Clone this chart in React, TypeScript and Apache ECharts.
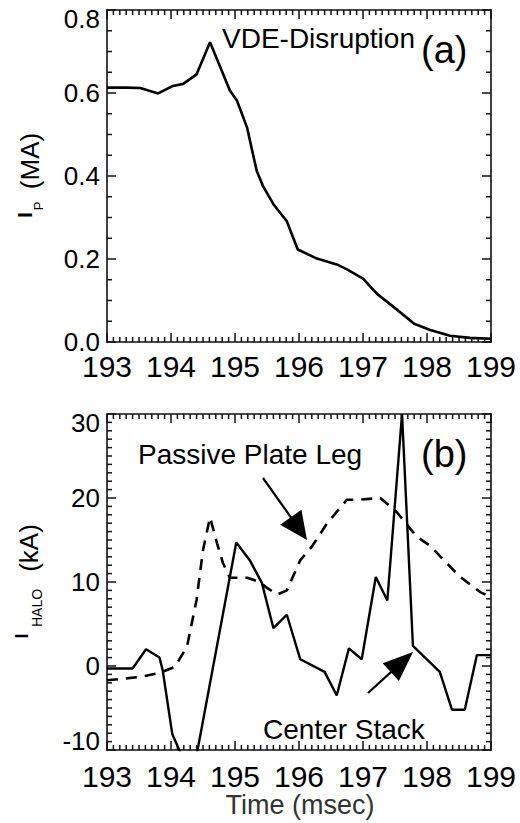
import React, { useEffect, useRef } from 'react';
import * as echarts from 'echarts';

// Panel (a): plasma current I_P (MA) vs time (msec)
const ipTime = [193.0, 193.3, 193.52, 193.8, 194.03, 194.19, 194.4, 194.61, 194.92, 195.03, 195.19, 195.27, 195.34, 195.44, 195.6, 195.81, 195.98, 196.28, 196.59, 196.75, 197.0, 197.22, 197.53, 197.8, 198.05, 198.36, 198.67, 199.0];
const ipValues = [0.613, 0.613, 0.612, 0.599, 0.617, 0.622, 0.645, 0.722, 0.606, 0.582, 0.516, 0.46, 0.412, 0.375, 0.332, 0.291, 0.223, 0.201, 0.187, 0.175, 0.153, 0.116, 0.078, 0.044, 0.029, 0.015, 0.01, 0.008];

// Panel (b): halo current, Center Stack (solid)
const csTime = [193.0, 193.4, 193.61, 193.82, 193.87, 194.02, 194.14, 194.3, 194.41, 195.02, 195.23, 195.42, 195.6, 195.81, 196.02, 196.4, 196.59, 196.78, 196.98, 197.2, 197.38, 197.61, 197.78, 198.2, 198.39, 198.59, 198.78, 199.0];
const csValues = [-0.3, -0.3, 2.0, 1.0, -0.5, -8.1, -10.2, -13.0, -10.2, 14.7, 12.6, 9.9, 4.5, 6.1, 0.8, -0.7, -3.5, 2.1, 0.8, 10.6, 7.8, 30.0, 2.4, -0.7, -5.2, -5.2, 1.3, 1.3];

// Panel (b): halo current, Passive Plate Leg (dashed)
const pplTime = [193.0, 193.52, 193.83, 194.06, 194.25, 194.4, 194.5, 194.61, 194.72, 194.81, 194.92, 195.19, 195.39, 195.5, 195.66, 195.81, 196.02, 196.2, 196.44, 196.75, 196.95, 197.27, 197.53, 197.69, 197.84, 198.05, 198.25, 198.52, 198.83, 199.0];
const pplValues = [-1.7, -1.3, -0.8, -0.1, 2.3, 7.9, 13.8, 17.7, 14.6, 12.3, 10.5, 10.5, 10.0, 9.3, 8.5, 9.0, 12.6, 14.2, 17.0, 19.8, 19.8, 20.0, 18.3, 16.8, 15.4, 14.3, 12.7, 10.6, 8.8, 8.2];

const xMin = 193;
const xMax = 199;
const xMinorPerMajor = 10;
const ipMin = 0;
const ipMax = 0.8;
const ipStep = 0.2;
const ipMinorPerMajor = 4;
const haloMin = -10;
const haloMax = 30;
const haloStep = 10;
const haloMinorPerMajor = 10;

const FONT = '"Liberation Sans", Arial, Helvetica, sans-serif';
const INK = '#111';

const GRID_LEFT = 107;
const GRID_W = 384;

function arrow(x1: number, y1: number, x2: number, y2: number, len: number, hw: number) {
  const dx = x2 - x1;
  const dy = y2 - y1;
  const L = Math.sqrt(dx * dx + dy * dy);
  const ux = dx / L;
  const uy = dy / L;
  const bx = x2 - ux * len;
  const by = y2 - uy * len;
  const px = -uy * hw;
  const py = ux * hw;
  return [
    { type: 'line', shape: { x1, y1, x2: bx + ux * 2, y2: by + uy * 2 }, style: { stroke: '#000', lineWidth: 2.2 } },
    { type: 'polygon', shape: { points: [[x2, y2], [bx + px, by + py], [bx - px, by - py]] }, style: { fill: '#000' } },
  ];
}

function vText(text: string, x: number, y: number, fontSize: number, bold = false) {
  return {
    type: 'text', x, y, rotation: Math.PI / 2,
    style: { text, fontSize, fontWeight: bold ? 'bold' : 'normal', fontFamily: FONT, fill: '#000', align: 'center', verticalAlign: 'middle' },
  };
}

export default function App() {
  const ref = useRef<HTMLDivElement>(null);
  useEffect(() => {
    const chart = echarts.init(ref.current as HTMLDivElement, null, { renderer: 'svg' });
    const lineStyle = { color: INK, width: 1.6 };
    const noTick = { show: false };
    const base = { type: 'value', splitLine: { show: false }, minorSplitLine: { show: false }, axisTick: noTick, minorTick: noTick };

    const xAxesFor = (g: number, margin: number) => [
      { ...base, gridIndex: g, position: 'bottom', min: xMin, max: xMax, interval: 1,
        axisLine: { show: true, onZero: false, lineStyle },
        axisLabel: { show: true, color: '#000', fontSize: 30, fontFamily: FONT, margin, lineHeight: 22 } },
      { ...base, gridIndex: g, position: 'top', min: xMin, max: xMax, interval: 1,
        axisLine: { show: true, onZero: false, lineStyle }, axisLabel: { show: false } },
    ];
    const yAxesFor = (g: number, min: number, max: number, interval: number, fmt: (v: number) => string, minAlign: string) => [
      { ...base, gridIndex: g, position: 'left', min, max, interval,
        axisLine: { show: true, onZero: false, lineStyle },
        axisLabel: {
          show: true, color: '#000', fontSize: 26, fontFamily: FONT, margin: 7, lineHeight: 18, formatter: fmt,
          verticalAlignMaxLabel: 'top', verticalAlignMinLabel: minAlign,
        } },
      { ...base, gridIndex: g, position: 'right', min, max, interval,
        axisLine: { show: true, onZero: false, lineStyle }, axisLabel: { show: false } },
    ];
    const ipFmt = (v: number) => v.toFixed(1);
    const haloFmt = (v: number) => String(Math.round(v));

    const baseGraphic: any[] = [
      { type: 'text', x: 222, y: 38, style: { text: 'VDE-Disruption', fontSize: 28, fontFamily: FONT, fill: '#000', verticalAlign: 'middle' } },
      { type: 'text', x: 421, y: 50, style: { text: '(a)', fontSize: 38, fontFamily: FONT, fill: '#000', verticalAlign: 'middle' } },
      { type: 'text', x: 138, y: 454, style: { text: 'Passive Plate Leg', fontSize: 28, fontFamily: FONT, fill: '#000', verticalAlign: 'middle' } },
      { type: 'text', x: 421, y: 454, style: { text: '(b)', fontSize: 38, fontFamily: FONT, fill: '#000', verticalAlign: 'middle' } },
      { type: 'text', x: 263, y: 729, style: { text: 'Center Stack', fontSize: 28, fontFamily: FONT, fill: '#000', verticalAlign: 'middle' } },
      { type: 'text', x: 300, y: 805, style: { text: 'Time (msec)', fontSize: 27, lineHeight: 20, fontFamily: FONT, fill: '#333', align: 'center', verticalAlign: 'middle' } },
      vText('I', 25, 215, 20, true),
      vText('P', 38, 206, 13),
      vText('(MA)', 30, 161, 26),
      vText('I', 22, 636, 18, true),
      vText('HALO', 37, 608, 14),
      vText('(kA)', 29, 548, 26),
      ...arrow(263, 478, 307, 540, 28, 13),
      ...arrow(368, 693, 413, 652, 30, 12),
    ];

    const option: any = {
      animation: false,
      backgroundColor: '#fff',
      grid: [
        { left: GRID_LEFT, top: 10, width: GRID_W, height: 332, containLabel: false },
        { left: GRID_LEFT, top: 414, width: GRID_W, height: 336, containLabel: false },
      ],
      xAxis: [...xAxesFor(0, 13), ...xAxesFor(1, 15)],
      yAxis: [
        ...yAxesFor(0, ipMin, ipMax, ipStep, ipFmt, 'middle'),
        ...yAxesFor(1, haloMin, haloMax, haloStep, haloFmt, 'bottom'),
      ],
      series: [
        {
          type: 'line', xAxisIndex: 0, yAxisIndex: 0, showSymbol: false, clip: true,
          data: ipTime.map((t, i) => [t, ipValues[i]]),
          lineStyle: { color: '#000', width: 2.6 },
        },
        {
          type: 'line', xAxisIndex: 2, yAxisIndex: 2, showSymbol: false, clip: true,
          data: csTime.map((t, i) => [t, csValues[i]]),
          lineStyle: { color: '#000', width: 2.4 },
        },
        {
          type: 'line', xAxisIndex: 2, yAxisIndex: 2, showSymbol: false, clip: true,
          data: pplTime.map((t, i) => [t, pplValues[i]]),
          lineStyle: { color: '#000', width: 2.6, type: [11, 8] },
        },
      ],
      graphic: baseGraphic,
    };
    chart.setOption(option);

    // inward ticks on all four sides, positioned through the axes' own scales
    const ticks: any[] = [];
    const addTicks = (xi: number, yi: number, yMin: number, yMax: number, yStep: number, yMinor: number) => {
      const finder = { xAxisIndex: xi, yAxisIndex: yi };
      const p0 = chart.convertToPixel(finder as any, [xMin, yMin]) as any;
      const p1 = chart.convertToPixel(finder as any, [xMax, yMax]) as any;
      if (!p0 || !p1) return;
      const left = p0[0];
      const bottom = p0[1];
      const right = p1[0];
      const top = p1[1];
      const mk = (x1: number, y1: number, x2: number, y2: number) => ({
        type: 'line', silent: true, shape: { x1, y1, x2, y2 }, style: { stroke: INK, lineWidth: 1.5 },
      });
      const nx = Math.round((xMax - xMin) * xMinorPerMajor);
      for (let k = 0; k <= nx; k++) {
        const t = xMin + k / xMinorPerMajor;
        const len = k % xMinorPerMajor === 0 ? 9 : 5;
        const p = chart.convertToPixel(finder as any, [t, yMin]) as any;
        if (!p) continue;
        ticks.push(mk(p[0], bottom, p[0], bottom - len));
        ticks.push(mk(p[0], top, p[0], top + len));
      }
      const ny = Math.round(((yMax - yMin) / yStep) * yMinor);
      for (let k = 0; k <= ny; k++) {
        const v = yMin + (k * yStep) / yMinor;
        const len = k % yMinor === 0 ? 9 : 5;
        const p = chart.convertToPixel(finder as any, [xMin, v]) as any;
        if (!p) continue;
        ticks.push(mk(left, p[1], left + len, p[1]));
        ticks.push(mk(right, p[1], right - len, p[1]));
      }
    };
    try {
      addTicks(0, 0, ipMin, ipMax, ipStep, ipMinorPerMajor);
      addTicks(2, 2, haloMin, haloMax, haloStep, haloMinorPerMajor);
      if (ticks.length) chart.setOption({ graphic: [...baseGraphic, ...ticks] });
    } catch (e) {
      // keep the chart as drawn
    }
    return () => chart.dispose();
  }, []);
  return <div ref={ref} style={{ position: 'fixed', left: 0, top: 0, width: 520, height: 823, background: '#fff' }} />;
}
